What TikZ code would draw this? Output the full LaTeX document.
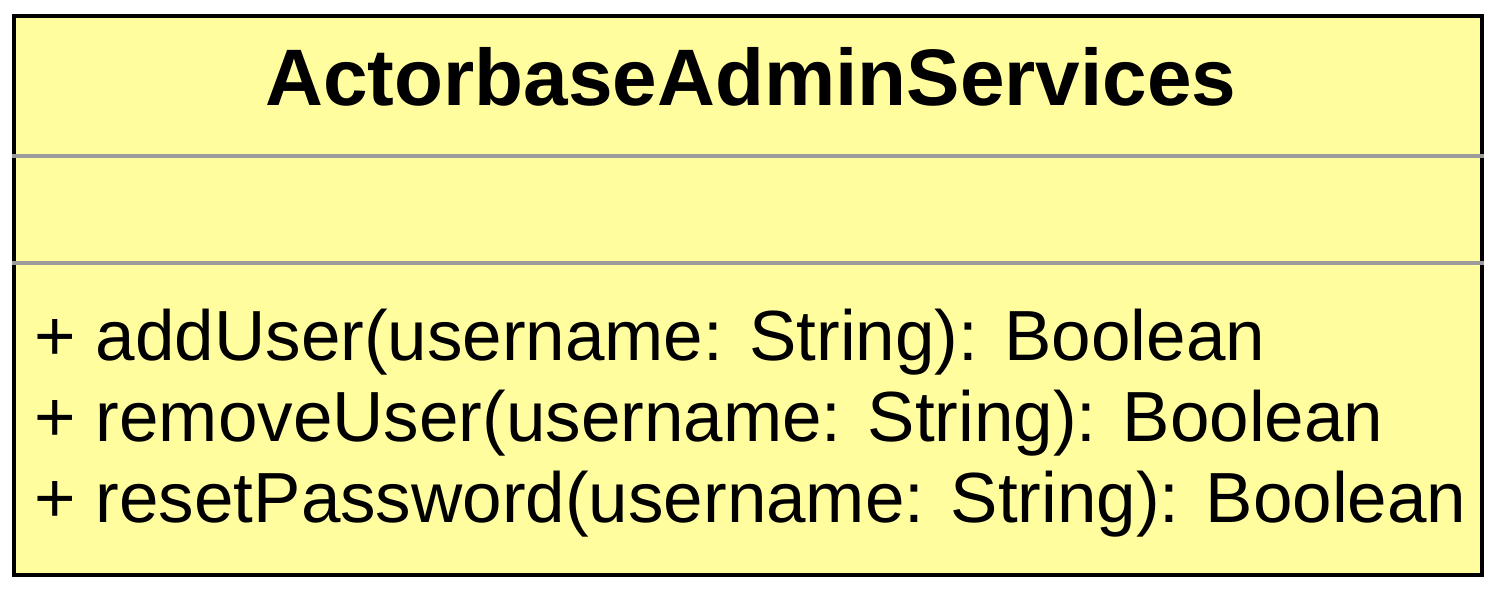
\documentclass[tikz,border=0pt]{standalone}
\usepackage{fontspec}
\setmainfont{Liberation Sans}
\usetikzlibrary{positioning}
\definecolor{umlfill}{RGB}{255,253,158}
\definecolor{umlrule}{RGB}{155,155,155}
\tikzset{
  classbox/.style={draw,line width=0.4mm,fill=umlfill,inner sep=0pt,
    minimum width=146.8mm,minimum height=55.95mm},
  divider/.style={draw=umlrule,line width=0.35mm},
  clsname/.style={font=\fontsize{22.8}{26}\selectfont\bfseries,inner sep=0pt},
  oper/.style={font=\fontsize{20.2}{24}\selectfont,inner sep=0pt,anchor=base west}
}
\begin{document}
\begin{tikzpicture}[x=0.1mm,y=-0.1mm]
\useasboundingbox (0,0) rectangle (1494,590);

% class box
\node[classbox] (cls) at (748,295.25) {};

% compartment rules
\coordinate (r1) at (0,156);
\coordinate (r2) at (0,263);
\draw[divider] (cls.west |- r1) -- (cls.east |- r1);
\draw[divider] (cls.west |- r2) -- (cls.east |- r2);

% name
\node[clsname,anchor=base] (name) at (751,105) {ActorbaseAdminServices};

% operations
\node[oper] (op1) at (34,360) {+ addUser(username: String): Boolean};
\node[oper] (op2) at (34,441) {+ removeUser(username: String): Boolean};
\node[oper] (op3) at (34,522) {+ resetPassword(username: String): Boolean};
\end{tikzpicture}
\end{document}
